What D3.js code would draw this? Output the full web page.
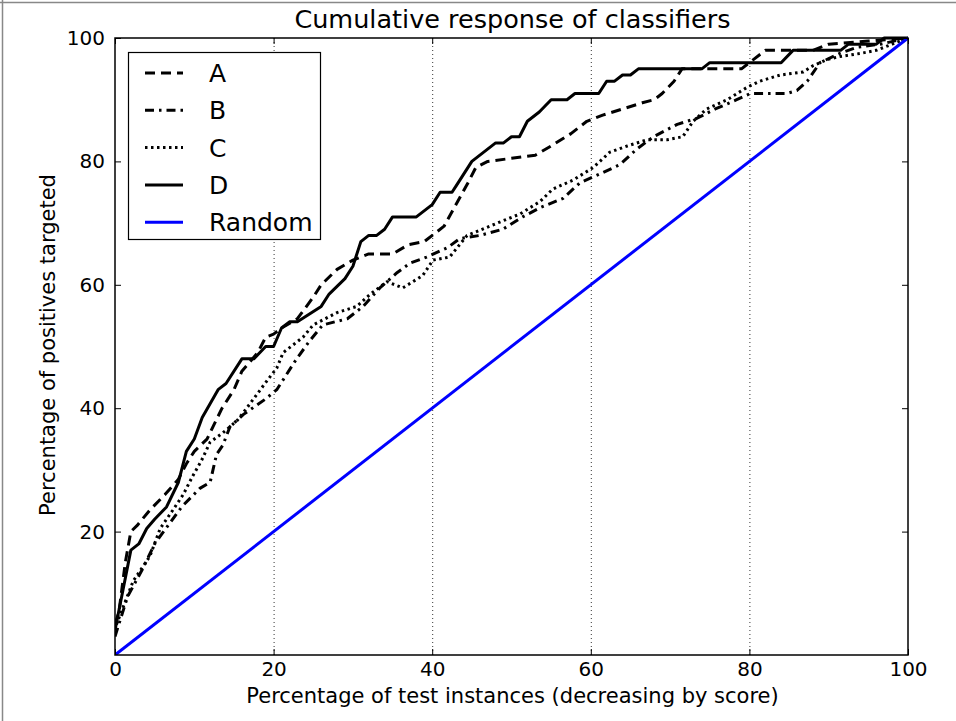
<!DOCTYPE html>
<html><head><meta charset="utf-8">
<script src="https://cdn.jsdelivr.net/npm/d3@7"></script>
<style>body{margin:0;background:#fff;} svg{display:block;} text{font-family:"DejaVu Sans",sans-serif;fill:#000;}</style>
</head><body>
<script>
const title = "Cumulative response of classifiers";
const xLabel = "Percentage of test instances (decreasing by score)";
const yLabel = "Percentage of positives targeted";
const xTicks = [0, 20, 40, 60, 80, 100];
const yTicks = [20, 40, 60, 80, 100];
const seriesNames = ["A", "B", "C", "D", "Random"];

const seriesA = [[0,5],[0.5,7],[1.3,15],[2,20],[2.8,21],[4.4,23.5],[6.3,26],[8,28.5],[9,31],[10,33],[11.6,35],[13.5,40],[15,43],[16,46],[18,49],[19,51.5],[20,52],[21,53],[23,54.5],[25,58],[26,60],[28,62.5],[30,64],[32,65],[35,65],[37,66.5],[39,67],[41.5,69.5],[43,73],[44.5,76.5],[45.5,79],[47,80],[50,80.5],[53,81],[55,82.5],[57.5,84.5],[59.5,86.5],[61.5,87.5],[64,88.5],[66.5,89.5],[68,90],[69,91],[70.5,93],[71.5,95],[79,95],[80.5,96.5],[82,98],[88,98],[90,99],[95,99.5],[100,100]];
const seriesB = [[0,3],[1.6,9.5],[3.5,14],[5,18],[6.7,21],[8.4,24],[10.7,27],[12,28],[12.8,32.5],[13.6,34],[14.5,37],[16.2,39],[19,41.5],[20.4,43],[22.9,48],[24.6,51],[26.2,53.5],[29.3,54.5],[31.3,56.5],[33.4,59.5],[35.6,62],[37.2,63.5],[39.3,64.5],[41.9,66],[43.5,67.5],[46,68],[48.9,69],[51.4,71],[53.6,72.5],[56.5,74],[58.6,76.5],[61.2,78],[63.7,79.5],[65.8,82],[67.9,84],[70.9,86],[73.4,87],[75.7,88.5],[78.4,90],[80.1,91],[84.7,91],[86,91.5],[87.3,93],[88.9,96],[91.4,97.5],[93.6,98.5],[96.5,99],[100,100]];
const seriesC = [[0,4],[0.2,5],[2.3,12],[4.4,16],[5.7,20.5],[7.3,23.5],[8.6,26],[9.8,29],[10.9,31.5],[12,34.5],[13.6,36],[15.4,38],[16.6,40],[19.2,44.5],[20.4,46.5],[21.2,49],[23.7,51.5],[25,53.5],[28,55.5],[30.5,56.5],[32.2,58.5],[34.3,60.5],[36.3,59.5],[38.8,61.5],[40.1,64],[42.2,64.5],[44.4,68],[48.2,70],[51.1,71.5],[53.6,73.5],[55.2,75.5],[57.8,77],[60.3,79],[62.4,81.5],[64.6,82.5],[67.1,83.5],[69.6,83.5],[71.6,84],[72.9,86.5],[74.6,88.5],[77.2,90],[79.7,92],[81.3,93],[83.9,94],[86.8,94.5],[88,95.5],[89.8,96.5],[91.4,97],[94,97.5],[96,98],[98,99],[100,100]];
const seriesD = [[0,4],[1,10.5],[2,17],[3,18],[4,20.5],[5,22],[6.5,24],[8,28],[9,33],[10,35],[11,38.5],[13,43],[14,44],[16,48],[17.5,48],[19,50],[20,50],[21,53],[22,54],[23,54],[26,56.5],[27,58.5],[29,61],[30,63],[31,67],[32,68],[33,68],[34,69],[35,71],[38,71],[40,73],[41,75],[42.5,75],[43,76],[45,80],[48,83],[49,83],[50,84],[51,84],[52,86.5],[53.5,88],[55,90],[57,90],[58,91],[61,91],[62,93],[63,93],[64,94],[65,94],[66,95],[74,95],[75,96],[84,96],[85.5,98],[91.5,98],[92.5,99],[96,99],[97,100],[100,100]];
const seriesRandom = [[0,0],[100,100]];

const W = 956, H = 721;
const m = {left:115, right:908, top:38, bottom:655};
const svg = d3.select("body").append("svg").attr("width", W).attr("height", H);

// outer frame lines
svg.append("line").attr("x1",0).attr("x2",W).attr("y1",2.5).attr("y2",2.5).attr("stroke","#888").attr("stroke-width",1.5);
svg.append("line").attr("x1",2.5).attr("x2",2.5).attr("y1",0).attr("y2",H).attr("stroke","#888").attr("stroke-width",1.5);

const x = d3.scaleLinear().domain([0,100]).range([m.left, m.right]);
const y = d3.scaleLinear().domain([0,100]).range([m.bottom, m.top]);

svg.append("defs").append("clipPath").attr("id","clip").append("rect")
  .attr("x", m.left).attr("y", m.top - 2).attr("width", m.right - m.left + 2).attr("height", m.bottom - m.top + 2);

// grid (vertical dotted)
svg.append("g").selectAll("line").data(xTicks.filter(d => d>0 && d<100)).join("line")
  .attr("x1", d => x(d)+0.5).attr("x2", d => x(d)+0.5).attr("y1", m.top).attr("y2", m.bottom)
  .attr("stroke","#000").attr("stroke-width",0.8).attr("stroke-dasharray","1,3");

const line = d3.line().x(d => x(d[0])).y(d => y(d[1]));
const styles = [
  {data: seriesA, color:"#000", dash:"10,6"},
  {data: seriesB, color:"#000", dash:"9,5,2.5,5"},
  {data: seriesC, color:"#000", dash:"2.5,3.5"},
  {data: seriesD, color:"#000", dash:null},
  {data: seriesRandom, color:"#0000ff", dash:null}
];
const gl = svg.append("g").attr("clip-path","url(#clip)");
styles.forEach(s => {
  gl.append("path").datum(s.data).attr("d", line).attr("fill","none")
    .attr("stroke", s.color).attr("stroke-width", 3)
    .attr("stroke-dasharray", s.dash).attr("stroke-linejoin","round");
});

// axes (inward ticks on all sides)
const tickLen = 6;
const axB = d3.axisBottom(x).tickValues(xTicks).tickSize(-tickLen).tickPadding(7).tickFormat(d3.format("d"));
const axT = d3.axisTop(x).tickValues(xTicks).tickSize(-tickLen).tickFormat("");
const axL = d3.axisLeft(y).tickValues(yTicks).tickSize(-tickLen).tickPadding(10).tickFormat(d3.format("d"));
const axR = d3.axisRight(y).tickValues(yTicks).tickSize(-tickLen).tickFormat("");
function style(g){ g.select(".domain").remove(); g.selectAll("line").attr("stroke","#000").attr("stroke-width",1); g.selectAll("text").style("font-family","DejaVu Sans").style("font-size","20px").attr("fill","#000"); }
svg.append("g").attr("transform",`translate(0,${m.bottom})`).call(axB).call(style);
svg.append("g").attr("transform",`translate(0,${m.top})`).call(axT).call(style);
svg.append("g").attr("transform",`translate(${m.left},0)`).call(axL).call(style);
svg.append("g").attr("transform",`translate(${m.right},0)`).call(axR).call(style);

svg.append("rect").attr("x", m.left).attr("y", m.top).attr("width", m.right-m.left).attr("height", m.bottom-m.top)
  .attr("fill","none").attr("stroke","#000").attr("stroke-width",1.5);

// titles
svg.append("text").attr("x",(m.left+m.right)/2 + 1).attr("y",28).attr("text-anchor","middle").style("font-size","25.5px").text(title);
svg.append("text").attr("x",(m.left+m.right)/2 + 1).attr("y",703).attr("text-anchor","middle").style("font-size","21px").text(xLabel);
svg.append("text").attr("transform","translate(55,345) rotate(-90)").attr("text-anchor","middle").style("font-size","21px").text(yLabel);

// legend
const lg = svg.append("g");
lg.append("rect").attr("x",128.5).attr("y",52.5).attr("width",192).attr("height",187).attr("fill","#fff").attr("stroke","#000").attr("stroke-width",1.2);
seriesNames.forEach((name, i) => {
  const yy = 73 + i*37.3;
  const s = styles[i];
  lg.append("line").attr("x1",145).attr("x2",183).attr("y1",yy).attr("y2",yy)
    .attr("stroke", s.color).attr("stroke-width",3).attr("stroke-dasharray", s.dash);
  lg.append("text").attr("x",209).attr("y",yy+9).style("font-size","25px").text(name);
});
</script>
</body></html>
